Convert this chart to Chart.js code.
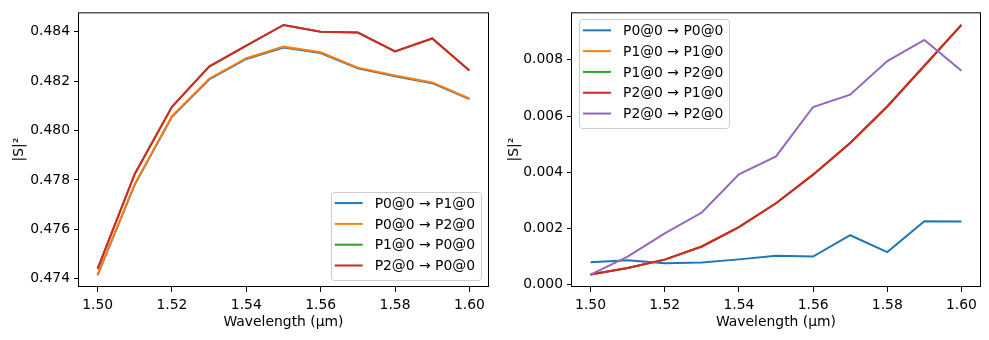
<!DOCTYPE html>
<html>
<head>
<meta charset="utf-8">
<script src="https://cdn.jsdelivr.net/npm/chart.js@4.4.1/dist/chart.umd.min.js"></script>
<style>
  html, body { margin: 0; padding: 0; background: #fff; }
  #wrap { position: relative; width: 989px; height: 340px; }
  .panel { position: absolute; top: 0; width: 494px; height: 340px; }
</style>
</head>
<body>
<div id="wrap">
  <div class="panel" style="left:0"><canvas id="cross-chart" width="494" height="340"></canvas></div>
  <div class="panel" style="left:495px"><canvas id="self-chart" width="494" height="340"></canvas></div>
</div>
<script>
// wavelength sweep (µm)
const wavelengths = [1.50, 1.51, 1.52, 1.53, 1.54, 1.55, 1.56, 1.57, 1.58, 1.59, 1.60];

// |S|^2 for the port-to-port transfers
const p0ToP1 = [0.47414, 0.47781, 0.48056, 0.48207, 0.48290, 0.48336, 0.48314, 0.48252, 0.48220, 0.48192, 0.48127];
const p0ToP2 = [0.47417, 0.47784, 0.48059, 0.48210, 0.48293, 0.48340, 0.48317, 0.48255, 0.48223, 0.48195, 0.48130];
const p1ToP0 = [0.47439, 0.47824, 0.48096, 0.48259, 0.48344, 0.48428, 0.48400, 0.48397, 0.48321, 0.48373, 0.48243];
const p2ToP0 = [0.47439, 0.47824, 0.48096, 0.48259, 0.48344, 0.48428, 0.48400, 0.48397, 0.48321, 0.48373, 0.48243];

// |S|^2 for reflections and the P1/P2 crosstalk
const p0ToP0 = [0.00079, 0.00086, 0.00075, 0.00078, 0.00089, 0.00102, 0.00099, 0.00175, 0.00115, 0.00225, 0.00224];
const p1ToP1 = [0.00035, 0.00058, 0.00088, 0.00135, 0.00204, 0.00289, 0.00391, 0.00504, 0.00634, 0.00779, 0.00925];
const p1ToP2 = [0.00035, 0.00058, 0.00088, 0.00135, 0.00204, 0.00289, 0.00391, 0.00504, 0.00634, 0.00779, 0.00925];
const p2ToP1 = [0.00035, 0.00058, 0.00088, 0.00135, 0.00204, 0.00289, 0.00391, 0.00504, 0.00634, 0.00779, 0.00925];
const p2ToP2 = [0.00035, 0.00099, 0.00182, 0.00256, 0.00392, 0.00456, 0.00632, 0.00676, 0.00796, 0.00871, 0.00761];

const xTicks = [1.50, 1.52, 1.54, 1.56, 1.58, 1.60];
const crossTicks = [0.474, 0.476, 0.478, 0.480, 0.482, 0.484];
const selfTicks = [0.000, 0.002, 0.004, 0.006, 0.008];

const tab10 = ['#1f77b4', '#ff7f0e', '#2ca02c', '#d62728', '#9467bd'];
const FONT = '"DejaVu Sans", sans-serif';
const FS = 13.9;

Chart.defaults.font.family = FONT;
Chart.defaults.font.size = FS;
Chart.defaults.color = '#000';

// black box around the plot area, like axes spines
const axesFrame = {
  id: 'axesFrame',
  afterDraw(chart) {
    const { ctx, chartArea: a } = chart;
    ctx.save();
    ctx.strokeStyle = '#000';
    ctx.lineWidth = 1;
    ctx.strokeRect(a.left - 0.5, a.top + 0.5, a.right - a.left + 1, a.bottom - a.top - 1);
    ctx.restore();
  }
};

// framed legend placed inside the plot area
const boxLegend = {
  id: 'boxLegend',
  afterDatasetsDraw(chart, args, opts) {
    const { ctx, chartArea: a } = chart;
    const sets = chart.data.datasets;
    ctx.save();
    ctx.font = FS + 'px ' + FONT;
    const textW = Math.max(...sets.map(d => ctx.measureText(d.label).width));
    const w = 44 + textW + 6;
    const h = 11 + (sets.length - 1) * 20.8 + 14.5;
    const x = opts.corner === 'br' ? a.right - 7 - w : a.left + 7;
    const y = opts.corner === 'br' ? a.bottom - 7 - h : a.top + 7;
    ctx.beginPath();
    ctx.roundRect(Math.round(x) + 0.5, Math.round(y) + 0.5, Math.round(w), Math.round(h), 3);
    ctx.fillStyle = 'rgba(255,255,255,0.8)';
    ctx.fill();
    ctx.strokeStyle = '#cccccc';
    ctx.lineWidth = 1;
    ctx.stroke();
    sets.forEach((d, i) => {
      const cy = y + 11 + i * 20.8;
      ctx.strokeStyle = d.borderColor;
      ctx.lineWidth = 2;
      ctx.beginPath();
      ctx.moveTo(x + 4, cy);
      ctx.lineTo(x + 32, cy);
      ctx.stroke();
      ctx.fillStyle = '#000';
      ctx.textBaseline = 'middle';
      ctx.fillText(d.label, x + 44, cy + 1);
    });
    ctx.restore();
  }
};

function makeChart(id, labels, series, yTicks, yMin, yMax, yDigits, yWidth, padRight, corner) {
  return new Chart(document.getElementById(id), {
    type: 'line',
    data: {
      datasets: series.map((vals, i) => ({
        label: labels[i],
        data: wavelengths.map((w, j) => ({ x: w, y: vals[j] })),
        borderColor: tab10[i],
        backgroundColor: tab10[i],
        borderWidth: 2,
        pointRadius: 0,
        tension: 0,
        order: series.length - i
      }))
    },
    options: {
      responsive: false,
      animation: false,
      layout: { padding: { top: 10, right: padRight, bottom: 0, left: 0 } },
      plugins: {
        legend: { display: false },
        tooltip: { enabled: false },
        boxLegend: { corner: corner }
      },
      scales: {
        x: {
          type: 'linear',
          min: 1.495,
          max: 1.605,
          afterBuildTicks: (s) => { s.ticks = xTicks.map(v => ({ value: v })); },
          afterFit: (s) => { s.height = 53; },
          ticks: { padding: 5, maxRotation: 0, callback: (v) => v.toFixed(2) },
          grid: { drawOnChartArea: false, drawTicks: true, tickLength: 5, color: '#000' },
          border: { display: false },
          title: { display: true, text: 'Wavelength (µm)', padding: { top: 0, bottom: 9 } }
        },
        y: {
          min: yMin,
          max: yMax,
          afterBuildTicks: (s) => { s.ticks = yTicks.map(v => ({ value: v })); },
          afterFit: (s) => { s.width = yWidth; },
          ticks: { padding: 4, callback: (v) => v.toFixed(yDigits) },
          grid: { drawOnChartArea: false, drawTicks: true, tickLength: 5, color: '#000' },
          border: { display: false },
          title: { display: true, text: '|S|²', padding: { top: 11, bottom: 0 } }
        }
      }
    },
    plugins: [axesFrame, boxLegend]
  });
}

makeChart('cross-chart',
  ['P0@0 → P1@0', 'P0@0 → P2@0', 'P1@0 → P0@0', 'P2@0 → P0@0'],
  [p0ToP1, p0ToP2, p1ToP0, p2ToP0],
  crossTicks, 0.47366, 0.48479, 3, 79, 6, 'br');

makeChart('self-chart',
  ['P0@0 → P0@0', 'P1@0 → P1@0', 'P1@0 → P2@0', 'P2@0 → P1@0', 'P2@0 → P2@0'],
  [p0ToP0, p1ToP1, p1ToP2, p2ToP1, p2ToP2],
  selfTicks, -0.0000945, 0.0096945, 3, 77, 9, 'tl');
</script>
</body>
</html>
